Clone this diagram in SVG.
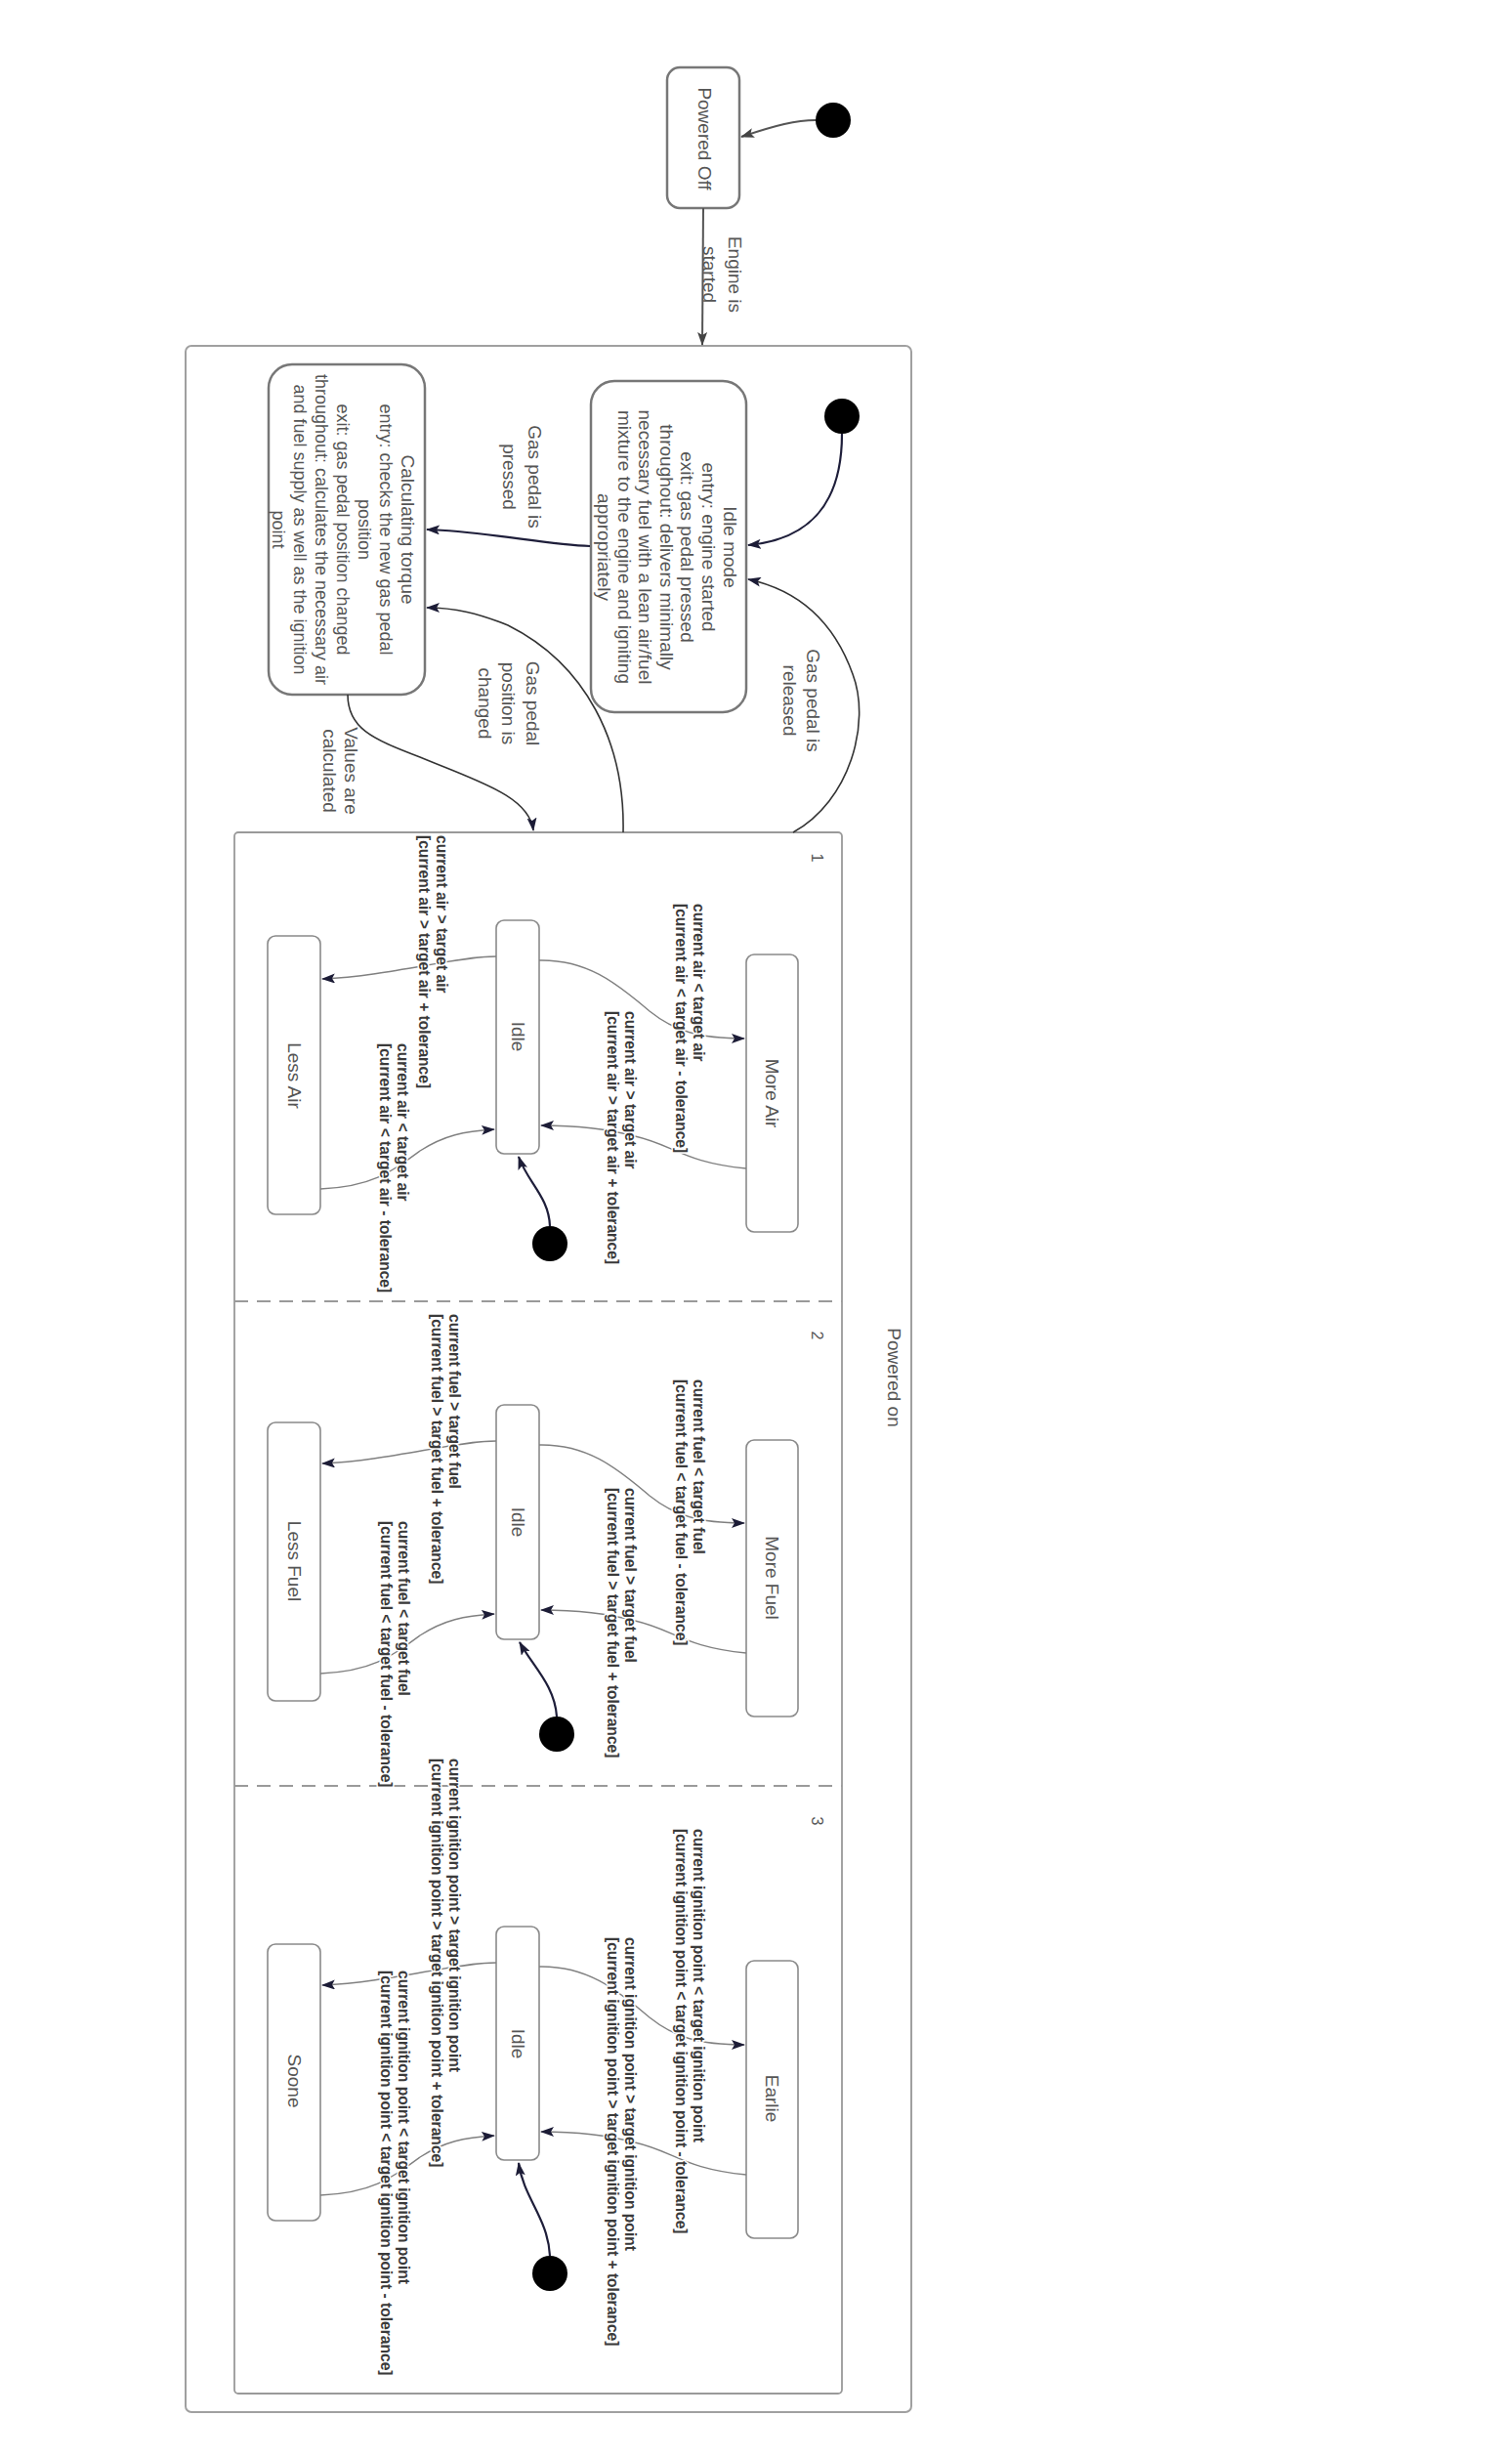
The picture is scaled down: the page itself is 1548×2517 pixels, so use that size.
<svg xmlns="http://www.w3.org/2000/svg" width="1548" height="2517" viewBox="0 0 1548 2517">
<style>
.t{font-family:"Liberation Sans",Arial,sans-serif;font-size:19px;fill:#555;text-anchor:middle;dominant-baseline:central}
.s{font-size:18px}
.n{font-family:"Liberation Sans",Arial,sans-serif;font-size:16px;fill:#555;text-anchor:middle;dominant-baseline:central}
.g{font-family:"Liberation Sans",Arial,sans-serif;font-size:15.6px;font-weight:bold;fill:#3a3a3a;dominant-baseline:central;stroke:#fff;stroke-width:3;stroke-linejoin:round;paint-order:stroke}
.big{fill:#fff;stroke:#777;stroke-width:2.5}
.sm{fill:#fff;stroke:#8a8a8a;stroke-width:1.6}
.dot{fill:#000}
.c1{fill:none;stroke:#1e1e3a;stroke-width:2.2}
.c2{fill:none;stroke:#333;stroke-width:1.6}
.c3{fill:none;stroke:#808080;stroke-width:1.4}
.cg{fill:none;stroke:#555;stroke-width:2}
</style>
<defs>
<marker id="a" viewBox="0 0 14 10" refX="13" refY="5" markerWidth="14" markerHeight="10" markerUnits="userSpaceOnUse" orient="auto"><path d="M0,0 L14,5 L0,10 L3,5 z" fill="#1c1c36"/></marker>
<marker id="ag" viewBox="0 0 14 10" refX="13" refY="5" markerWidth="14" markerHeight="10" markerUnits="userSpaceOnUse" orient="auto"><path d="M0,0 L14,5 L0,10 L3,5 z" fill="#444"/></marker>
</defs>
<rect width="1548" height="2517" fill="#fff"/>

<g id="powered-on">
<rect x="190" y="354" width="743" height="2115" rx="6" fill="none" stroke="#a0a0a0" stroke-width="2"/>
<text class="t" transform="translate(915,1410) rotate(90)">Powered on</text>
</g>

<g id="regions">
<rect x="240" y="852" width="622" height="1598" rx="4" fill="none" stroke="#9a9a9a" stroke-width="1.8"/>
<line x1="240" y1="1332" x2="862" y2="1332" stroke="#9a9a9a" stroke-width="1.8" stroke-dasharray="14 9"/>
<line x1="240" y1="1828" x2="862" y2="1828" stroke="#9a9a9a" stroke-width="1.8" stroke-dasharray="14 9"/>
<text class="n" transform="translate(836,878) rotate(90)">1</text>
<text class="n" transform="translate(836,1367) rotate(90)">2</text>
<text class="n" transform="translate(836,1864) rotate(90)">3</text>
</g>

<g id="init-top"><circle class="dot" cx="853" cy="123" r="18"/></g>
<g id="powered-off">
<rect class="big" x="683" y="69" width="74" height="144" rx="13"/>
<text class="t" transform="translate(721,142) rotate(90)">Powered Off</text>
</g>

<g id="init-on"><circle class="dot" cx="862" cy="426" r="18"/></g>
<g id="idle-mode">
<rect class="big" x="605" y="390" width="159" height="339" rx="24"/>
<text class="t" transform="translate(747,560) rotate(90)">Idle mode</text>
<text class="t" transform="translate(725,560) rotate(90)">entry: engine started</text>
<text class="t" transform="translate(703,560) rotate(90)">exit: gas pedal pressed</text>
<text class="t" transform="translate(682,560) rotate(90)">throughout: delivers minimally</text>
<text class="t" transform="translate(660,560) rotate(90)">necessary fuel with a lean air/fuel</text>
<text class="t" transform="translate(639,560) rotate(90)">mixture to the engine and igniting</text>
<text class="t" transform="translate(618,560) rotate(90)">appropriately</text>
</g>

<g id="calculating-torque">
<rect class="big" x="275" y="373" width="160" height="338" rx="24"/>
<text class="t" transform="translate(417,542) rotate(90)">Calculating torque</text>
<text class="t s" transform="translate(395,542) rotate(90)">entry: checks the new gas pedal</text>
<text class="t s" transform="translate(373,542) rotate(90)">position</text>
<text class="t s" transform="translate(351,542) rotate(90)">exit: gas pedal position changed</text>
<text class="t s" transform="translate(329,542) rotate(90)">throughout: calculates the necessary air</text>
<text class="t s" transform="translate(307,542) rotate(90)">and fuel supply as well as the ignition</text>
<text class="t s" transform="translate(285,542) rotate(90)">point</text>
</g>

<g id="r1-idle"><rect class="sm" x="508" y="942" width="44" height="239" rx="8"/><text class="t" transform="translate(530,1061) rotate(90)">Idle</text></g>
<g id="r1-less-air"><rect class="sm" x="274" y="958" width="54" height="285" rx="8"/><text class="t" transform="translate(301,1101) rotate(90)">Less Air</text></g>
<g id="r1-more-air"><rect class="sm" x="764" y="977" width="53" height="284" rx="8"/><text class="t" transform="translate(790,1119) rotate(90)">More Air</text></g>
<g id="r1-init"><circle class="dot" cx="563" cy="1273" r="18"/></g>

<g id="r2-idle"><rect class="sm" x="508" y="1438" width="44" height="240" rx="8"/><text class="t" transform="translate(530,1558) rotate(90)">Idle</text></g>
<g id="r2-less-fuel"><rect class="sm" x="274" y="1456" width="54" height="285" rx="8"/><text class="t" transform="translate(301,1598) rotate(90)">Less Fuel</text></g>
<g id="r2-more-fuel"><rect class="sm" x="764" y="1474" width="53" height="283" rx="8"/><text class="t" transform="translate(790,1615) rotate(90)">More Fuel</text></g>
<g id="r2-init"><circle class="dot" cx="570" cy="1775" r="18"/></g>

<g id="r3-idle"><rect class="sm" x="508" y="1972" width="44" height="239" rx="8"/><text class="t" transform="translate(530,2092) rotate(90)">Idle</text></g>
<g id="r3-soone"><rect class="sm" x="274" y="1990" width="54" height="283" rx="8"/><text class="t" transform="translate(301,2130) rotate(90)">Soone</text></g>
<g id="r3-earlie"><rect class="sm" x="764" y="2007" width="53" height="284" rx="8"/><text class="t" transform="translate(790,2148) rotate(90)">Earlie</text></g>
<g id="r3-init"><circle class="dot" cx="563" cy="2327" r="18"/></g>

<g id="connectors">
<path class="cg" d="M835,123 C815,123 795,128 759,140" marker-end="url(#ag)"/>
<path class="cg" d="M720,213 L719,353" marker-end="url(#ag)"/>
<path class="c1" d="M862,444 C862,515 830,552 766,558" marker-end="url(#a)"/>
<path class="c1" d="M604,559 C560,558 500,544 437,542" marker-end="url(#a)"/>
<path class="c2" d="M812,852 C870,820 892,740 873,690 C855,640 822,605 766,593" marker-end="url(#a)"/>
<path class="c2" d="M638,852 C640,760 600,680 520,640 C490,628 466,622 437,622" marker-end="url(#a)"/>
<path class="c2" d="M356,711 C356,745 380,756 430,775 C490,800 542,815 546,850" marker-end="url(#a)"/>

<path class="c3" d="M508,979 C465,979 400,999 330,1002" marker-end="url(#a)"/>
<path class="c3" d="M552,983 C600,982 630,1005 665,1035 C690,1055 715,1063 762,1063" marker-end="url(#a)"/>
<path class="c3" d="M764,1196 C700,1190 690,1172 650,1163 C620,1155 590,1152 554,1152" marker-end="url(#a)"/>
<path class="c3" d="M328,1217 C380,1215 400,1200 430,1178 C455,1162 475,1158 506,1156" marker-end="url(#a)"/>
<path class="c1" d="M563,1255 C562,1225 540,1210 531,1184" marker-end="url(#a)"/>

<path class="c3" d="M508,1475 C465,1475 400,1495 330,1498" marker-end="url(#a)"/>
<path class="c3" d="M552,1479 C600,1478 630,1501 665,1531 C690,1551 715,1559 762,1559" marker-end="url(#a)"/>
<path class="c3" d="M764,1692 C700,1686 690,1668 650,1659 C620,1651 590,1648 554,1648" marker-end="url(#a)"/>
<path class="c3" d="M328,1713 C380,1711 400,1696 430,1674 C455,1658 475,1654 506,1652" marker-end="url(#a)"/>
<path class="c1" d="M570,1757 C568,1725 545,1705 532,1681" marker-end="url(#a)"/>

<path class="c3" d="M508,2009 C465,2009 400,2029 330,2032" marker-end="url(#a)"/>
<path class="c3" d="M552,2013 C600,2012 630,2035 665,2065 C690,2085 715,2093 762,2093" marker-end="url(#a)"/>
<path class="c3" d="M764,2226 C700,2220 690,2202 650,2193 C620,2185 590,2182 554,2182" marker-end="url(#a)"/>
<path class="c3" d="M328,2247 C380,2245 400,2230 430,2208 C455,2192 475,2188 506,2186" marker-end="url(#a)"/>
<path class="c1" d="M563,2309 C561,2270 536,2250 531,2214" marker-end="url(#a)"/>
</g>

<g id="connector-labels">
<text class="t" transform="translate(752,281) rotate(90)">Engine is</text>
<text class="t" transform="translate(726,281) rotate(90)">started</text>
<text class="t" transform="translate(547,488) rotate(90)">Gas pedal is</text>
<text class="t" transform="translate(521,488) rotate(90)">pressed</text>
<text class="t" transform="translate(545,720) rotate(90)">Gas pedal</text>
<text class="t" transform="translate(520,720) rotate(90)">position is</text>
<text class="t" transform="translate(496,720) rotate(90)">changed</text>
<text class="t" transform="translate(832,717) rotate(90)">Gas pedal is</text>
<text class="t" transform="translate(808,717) rotate(90)">released</text>
<text class="t" transform="translate(359,789) rotate(90)">Values are</text>
<text class="t" transform="translate(337,789) rotate(90)">calculated</text>

<text class="g" transform="translate(452,855) rotate(90)">current air &gt; target air</text>
<text class="g" transform="translate(434,855) rotate(90)">[current air &gt; target air + tolerance]</text>
<text class="g" transform="translate(412,1068) rotate(90)">current air &lt; target air</text>
<text class="g" transform="translate(394,1068) rotate(90)">[current air &lt; target air - tolerance]</text>
<text class="g" transform="translate(715,925) rotate(90)">current air &lt; target air</text>
<text class="g" transform="translate(697,925) rotate(90)">[current air &lt; target air - tolerance]</text>
<text class="g" transform="translate(645,1035) rotate(90)">current air &gt; target air</text>
<text class="g" transform="translate(627,1035) rotate(90)">[current air &gt; target air + tolerance]</text>

<text class="g" transform="translate(465,1345) rotate(90)">current fuel &gt; target fuel</text>
<text class="g" transform="translate(447,1345) rotate(90)">[current fuel &gt; target fuel + tolerance]</text>
<text class="g" transform="translate(413,1557) rotate(90)">current fuel &lt; target fuel</text>
<text class="g" transform="translate(395,1557) rotate(90)">[current fuel &lt; target fuel - tolerance]</text>
<text class="g" transform="translate(715,1412) rotate(90)">current fuel &lt; target fuel</text>
<text class="g" transform="translate(697,1412) rotate(90)">[current fuel &lt; target fuel - tolerance]</text>
<text class="g" transform="translate(645,1523) rotate(90)">current fuel &gt; target fuel</text>
<text class="g" transform="translate(627,1523) rotate(90)">[current fuel &gt; target fuel + tolerance]</text>

<text class="g" transform="translate(465,1800) rotate(90)">current ignition point &gt; target ignition point</text>
<text class="g" transform="translate(447,1800) rotate(90)">[current ignition point &gt; target ignition point + tolerance]</text>
<text class="g" transform="translate(413,2017) rotate(90)">current ignition point &lt; target ignition point</text>
<text class="g" transform="translate(395,2017) rotate(90)">[current ignition point &lt; target ignition point - tolerance]</text>
<text class="g" transform="translate(715,1872) rotate(90)">current ignition point &lt; target ignition point</text>
<text class="g" transform="translate(697,1872) rotate(90)">[current ignition point &lt; target ignition point - tolerance]</text>
<text class="g" transform="translate(645,1983) rotate(90)">current ignition point &gt; target ignition point</text>
<text class="g" transform="translate(627,1983) rotate(90)">[current ignition point &gt; target ignition point + tolerance]</text>
</g>
</svg>
